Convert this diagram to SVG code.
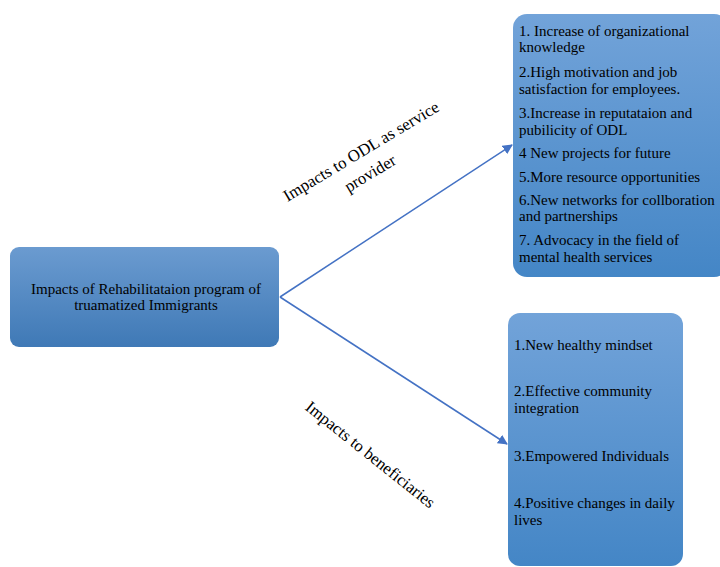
<svg xmlns="http://www.w3.org/2000/svg" width="720" height="567" viewBox="0 0 720 567">
  <defs>
    <linearGradient id="boxFill" x1="0" y1="0" x2="0" y2="1">
      <stop offset="0" stop-color="#72a3d9"/>
      <stop offset="1" stop-color="#4486c6"/>
    </linearGradient>
    <linearGradient id="mainFill" x1="0" y1="0" x2="0" y2="1">
      <stop offset="0" stop-color="#6b9bd0"/>
      <stop offset="1" stop-color="#3f79b6"/>
    </linearGradient>
    <marker id="arrow" viewBox="0 0 10 10" refX="9" refY="5" markerWidth="10" markerHeight="10" markerUnits="userSpaceOnUse" orient="auto">
      <path d="M0,0 L10,5 L0,10 z" fill="#4472c4"/>
    </marker>
    <style>
      text { font-family: "Liberation Serif", "Times New Roman", serif; fill: #000; }
      .item { font-size: 15px; }
      .label { font-size: 16.8px; text-anchor: middle; }
      .main { font-size: 15px; text-anchor: middle; }
      .conn { stroke: #4472c4; stroke-width: 1.5; fill: none; }
    </style>
  </defs>
  <rect width="720" height="567" fill="#ffffff"/>

  <!-- connectors -->
  <g id="connectors">
    <line class="conn" x1="280" y1="297" x2="512" y2="145" marker-end="url(#arrow)"/>
    <line class="conn" x1="280" y1="297" x2="507" y2="444" marker-end="url(#arrow)"/>
    <text class="label" transform="translate(364,156) rotate(-31)">Impacts to ODL as service</text>
    <text class="label" transform="translate(373,178) rotate(-31)">provider</text>
    <text class="label" transform="translate(367,459) rotate(38.5)">Impacts to beneficiaries</text>
  </g>

  <!-- central node -->
  <g id="main">
    <rect x="10" y="247" width="269" height="100" rx="9" fill="url(#mainFill)"/>
    <text class="main" x="146" y="294">Impacts of Rehabilitataion program of</text>
    <text class="main" x="146" y="310">truamatized Immigrants</text>
  </g>

  <!-- service provider impacts -->
  <g id="odl">
    <rect x="513" y="14" width="215" height="263" rx="14" fill="url(#boxFill)"/>
    <text class="item" x="519" y="36">1. Increase of organizational</text>
    <text class="item" x="519" y="52">knowledge</text>
    <text class="item" x="519" y="77">2.High motivation and job</text>
    <text class="item" x="519" y="94">satisfaction for employees.</text>
    <text class="item" x="519" y="118">3.Increase in reputataion and</text>
    <text class="item" x="519" y="135">pubilicity of ODL</text>
    <text class="item" x="519" y="158">4 New projects for future</text>
    <text class="item" x="519" y="182">5.More resource opportunities</text>
    <text class="item" x="519" y="205">6.New networks for collboration</text>
    <text class="item" x="519" y="221">and partnerships</text>
    <text class="item" x="519" y="245">7. Advocacy in the field of</text>
    <text class="item" x="519" y="262">mental health services</text>
  </g>

  <!-- beneficiary impacts -->
  <g id="beneficiaries">
    <rect x="508" y="313" width="175" height="253" rx="12" fill="url(#boxFill)"/>
    <text class="item" x="514" y="350">1.New healthy mindset</text>
    <text class="item" x="514" y="396">2.Effective community</text>
    <text class="item" x="514" y="413">integration</text>
    <text class="item" x="514" y="461">3.Empowered Individuals</text>
    <text class="item" x="514" y="508">4.Positive changes in daily</text>
    <text class="item" x="514" y="525">lives</text>
  </g>
</svg>
